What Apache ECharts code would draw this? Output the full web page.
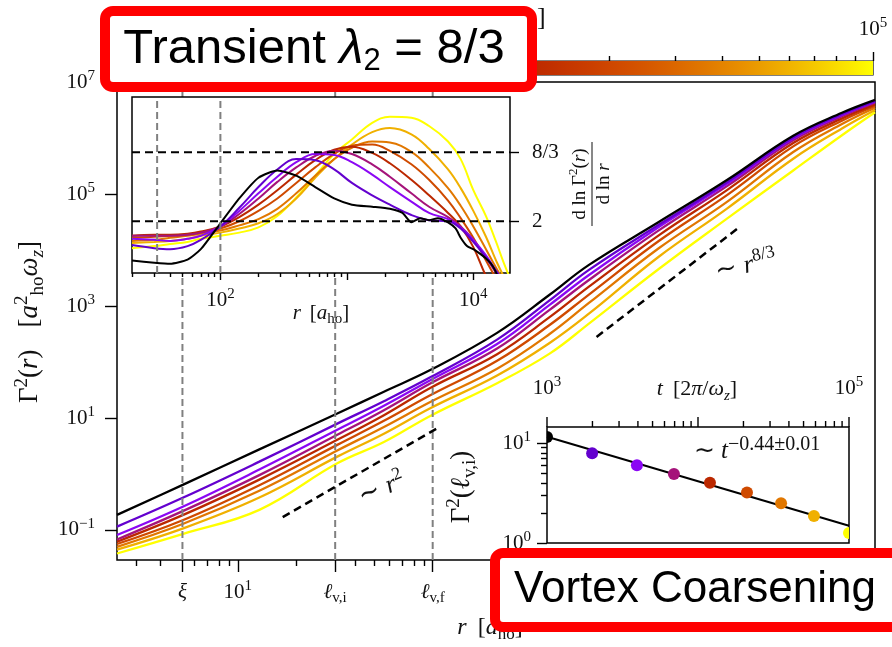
<!DOCTYPE html>
<html>
<head>
<meta charset="utf-8">
<title>Vortex coarsening – Γ²(r)</title>
<script src="https://cdn.jsdelivr.net/npm/echarts@6.0.0/dist/echarts.min.js"></script>
<style>
  html, body { margin: 0; padding: 0; background: #fff; }
  #chart { width: 892px; height: 647px; }
</style>
</head>
<body>
<div id="chart"></div>
<script>
// ---------------------------------------------------------------------------
// Data
// ---------------------------------------------------------------------------

// Snapshot times t [2π/ω_z] of the nine curves (black = earliest, yellow = latest)
const snapTimes = [1000, 1990, 3940, 6930, 12000, 21100, 35500, 58600, 100000];

// Γ²(r) [a_ho² ω_z] at the radii r [a_ho] below, one array per snapshot
const rMain = [2.4, 5.25, 12.9, 32.4, 56.2, 97.7, 214, 398, 631, 1445, 3236, 7079, 12590, 18620];
const gammaT1000   = [0.186, 0.646, 2.75, 12.0, 29.5, 72.4, 331, 1585, 5370, 31620, 177800, 1096000, 2820000, 4790000];
const gammaT1990   = [0.115, 0.380, 1.66, 7.94, 19.95, 53.7, 251, 1259, 4365, 28180, 162200, 1023000, 2690000, 4570000];
const gammaT3940   = [0.0813, 0.263, 1.20, 6.17, 16.6, 47.9, 209, 1047, 3548, 25700, 151400, 977000, 2570000, 4470000];
const gammaT6930   = [0.0676, 0.219, 0.955, 5.01, 13.8, 41.7, 174, 851, 2884, 22390, 138000, 912000, 2450000, 4270000];
const gammaT12000  = [0.0617, 0.186, 0.794, 4.07, 11.2, 34.7, 138, 631, 2188, 18200, 117500, 813000, 2240000, 3980000];
const gammaT21100  = [0.0562, 0.151, 0.631, 3.31, 8.91, 25.7, 105, 457, 1585, 14450, 95500, 708000, 2040000, 3720000];
const gammaT35500  = [0.0501, 0.129, 0.501, 2.63, 6.92, 19.5, 75.9, 316, 1122, 10720, 72400, 562000, 1780000, 3470000];
const gammaT58600  = [0.0447, 0.107, 0.380, 2.04, 5.25, 15.1, 57.5, 219, 724, 7586, 54950, 426600, 1480000, 3160000];
const gammaT100000 = [0.0380, 0.0851, 0.229, 1.55, 3.72, 11.0, 41.7, 141, 479, 4571, 36300, 263000, 1120000, 2880000];

// Local slope d ln Γ²/d ln r
const rSlopeT1000 = [20, 30, 40, 55, 70, 100, 141, 200, 282, 398, 562, 794, 1096, 1585, 2188, 2754, 3236, 3802, 4467, 5248, 6310, 7244, 7943, 8913, 10000, 11480, 12590, 13800, 14790, 15850];
const slopeT1000  = [1.62, 1.60, 1.59, 1.63, 1.73, 1.98, 2.22, 2.42, 2.49, 2.44, 2.33, 2.22, 2.16, 2.14, 2.12, 2.08, 1.99, 2.03, 2.01, 2.03, 1.99, 1.93, 1.84, 1.76, 1.73, 1.68, 1.64, 1.59, 1.53, 1.45];
const rSlope = [20, 30, 40, 55, 70, 100, 141, 200, 282, 398, 562, 794, 1096, 1585, 2188, 3236, 4467, 6310, 7943, 10000, 12590, 15140, 17380, 19500];
const slopeT1990   = [1.77, 1.74, 1.73, 1.76, 1.82, 1.95, 2.13, 2.33, 2.50, 2.60, 2.59, 2.50, 2.37, 2.25, 2.16, 2.06, 2.01, 2.00, 1.93, 1.80, 1.65, 1.52, 1.42, 1.35];
const slopeT3940   = [1.83, 1.82, 1.81, 1.83, 1.86, 1.95, 2.10, 2.27, 2.43, 2.57, 2.65, 2.64, 2.57, 2.45, 2.33, 2.19, 2.08, 2.02, 1.94, 1.82, 1.67, 1.52, 1.42, 1.35];
const slopeT6930   = [1.86, 1.86, 1.86, 1.87, 1.89, 1.95, 2.07, 2.22, 2.38, 2.52, 2.63, 2.68, 2.65, 2.55, 2.43, 2.27, 2.14, 2.04, 1.95, 1.82, 1.65, 1.50, 1.40, 1.33];
const slopeT12000  = [1.86, 1.87, 1.87, 1.88, 1.90, 1.95, 2.04, 2.16, 2.30, 2.45, 2.59, 2.69, 2.72, 2.66, 2.56, 2.40, 2.25, 2.08, 1.95, 1.75, 1.47, 1.30, 1.20, 1.10];
const slopeT21100  = [1.84, 1.85, 1.86, 1.87, 1.89, 1.93, 2.00, 2.10, 2.22, 2.37, 2.52, 2.65, 2.73, 2.74, 2.68, 2.55, 2.40, 2.20, 2.03, 1.84, 1.62, 1.45, 1.35, 1.25];
const slopeT35500  = [1.81, 1.82, 1.84, 1.86, 1.88, 1.91, 1.96, 2.02, 2.12, 2.27, 2.44, 2.60, 2.71, 2.77, 2.76, 2.67, 2.52, 2.32, 2.15, 1.95, 1.73, 1.55, 1.43, 1.35];
const slopeT58600  = [1.79, 1.80, 1.81, 1.83, 1.86, 1.89, 1.93, 1.98, 2.07, 2.22, 2.42, 2.60, 2.74, 2.86, 2.90, 2.84, 2.70, 2.50, 2.32, 2.10, 1.85, 1.62, 1.47, 1.38];
const slopeT100000 = [1.74, 1.76, 1.78, 1.80, 1.83, 1.86, 1.89, 1.94, 2.05, 2.23, 2.44, 2.65, 2.79, 2.95, 3.01, 3.00, 2.92, 2.77, 2.60, 2.30, 2.05, 1.80, 1.60, 1.45];

// Γ²(ℓ_v,i) versus time and its power-law fit ~ t^(-0.44)
const gammaAtLvi = [11.5, 7.9, 6.0, 4.9, 4.0, 3.2, 2.5, 1.86, 1.26];
const fitT = [1000, 100000];
const fitGamma = [11.6, 1.49];

// Power-law guides
const guideR2 = [17, 105];
const guideG2 = [0.17, 6.49];
const guideR83 = [693, 3750];
const guideG83 = [280, 25600];

// Characteristic lengths: ξ, ℓ_v,i, ℓ_v,f
const lengthMarks = [5.2, 31.6, 100];
const insetLengthMarks = [31.6, 100];
const slopeRefs = [2, 8 / 3];

// Axis ranges
const mainR = [2.4, 18600];
const mainGamma = [0.0291, 1e7];
const insetR = [20, 19500];
const insetSlope = [1.5, 3.2];
const coarsenT = [1000, 100000];
const coarsenGamma = [1, 14.5];

// Tick values
const mainXMajor = [5.2, 10, 31.6, 100, 1000, 10000];
const mainXLabelled = [5.2, 10, 31.6, 100];
const mainYLabelled = [0.1, 10, 1000, 1e5, 1e7];
const insetXMajor = [100, 1000, 10000];
const insetXLabelled = [100, 10000];
const coarsenXMajor = [1000, 10000, 100000];
const coarsenXLabelled = [1000, 100000];
const coarsenYLabelled = [1, 10];
const cbarMajor = [1000, 10000, 100000];

// ---------------------------------------------------------------------------
// Helpers
// ---------------------------------------------------------------------------
const lg = Math.log10;
const SERIF = 'Liberation Serif';
const SANS = 'Liberation Sans';
const INK = '#111';

// matplotlib "gnuplot" colour map
function gnuplot(x) {
  const r = Math.sqrt(x), g = x * x * x, b = Math.max(0, Math.sin(2 * Math.PI * x));
  const h = v => Math.round(Math.min(1, Math.max(0, v)) * 255).toString(16).padStart(2, '0');
  return '#' + h(r) + h(g) + h(b);
}
const tNorm = t => (lg(t) - lg(coarsenT[0])) / (lg(coarsenT[1]) - lg(coarsenT[0]));
const curveColors = snapTimes.map(t => gnuplot(tNorm(t)));

// rich-text styles for math labels of base size s
function mathRich(s, supScale, quad) {
  const H = Math.round(s * 1.3), ss = Math.round(s * (supScale || 0.7));
  const base = { fontFamily: SERIF, fontSize: s, lineHeight: H, color: INK, fill: INK };
  const sup = { fontFamily: SERIF, fontSize: ss, lineHeight: H - Math.round(0.7 * s), verticalAlign: 'top', color: INK, fill: INK };
  const sub = { fontFamily: SERIF, fontSize: Math.round(s * 0.7), lineHeight: H - Math.round(0.5 * s), verticalAlign: 'bottom', color: INK, fill: INK };
  return {
    n: base,
    i: Object.assign({}, base, { fontStyle: 'italic' }),
    sup: sup,
    sub: sub,
    subi: Object.assign({}, sub, { fontStyle: 'italic' }),
    q: { fontFamily: SERIF, fontSize: s, lineHeight: H, width: Math.round(s * (quad || 0.45)) }
  };
}
const pow10 = k => '{n|10}{sup|' + (k < 0 ? '\u2212' + (-k) : k) + '}';

function pickLabel(pairs) {
  return v => {
    for (const [val, txt] of pairs) if (Math.abs(lg(val) - v) < 1e-6) return txt;
    return '';
  };
}

// minor log ticks (2..9 × 10^k) inside [lo, hi], returned in log units
function minorTicks(lo, hi, skip) {
  const out = [];
  for (let e = Math.floor(lg(lo)); e <= Math.ceil(lg(hi)); e++) {
    for (let m = 2; m <= 9; m++) {
      const v = m * Math.pow(10, e);
      if (v >= lo * 0.9999 && v < hi * 0.9999 && !(skip || []).includes(v)) out.push(lg(v));
    }
  }
  return out;
}

const tickStyle = { color: '#000', width: 1.4 };

function majorAxis(o) {
  return Object.assign({
    type: 'value',
    splitLine: { show: false },
    axisLine: { show: false, onZero: false },
    axisTick: o.ticks ? { show: true, inside: false, customValues: o.ticks, length: o.len, lineStyle: tickStyle } : { show: false },
    axisLabel: o.labels ? {
      show: true, inside: false, customValues: o.labels, formatter: o.fmt, rich: mathRich(o.fs || 21), margin: o.margin
    } : { show: false }
  }, o.base);
}
function minorAxis(o) {
  return Object.assign({
    type: 'value',
    splitLine: { show: false },
    axisLine: { show: false, onZero: false },
    axisTick: { show: true, inside: false, customValues: o.ticks, length: o.len, lineStyle: tickStyle },
    axisLabel: { show: false }
  }, o.base);
}

// ---------------------------------------------------------------------------
// Axes
// ---------------------------------------------------------------------------
const mainXFmt = pickLabel([
  [5.2, '{i|ξ}'], [10, pow10(1)], [31.6, '{i|ℓ}{sub|v,i}'], [100, '{i|ℓ}{sub|v,f}']
]);
const mainYFmt = pickLabel(mainYLabelled.map(v => [v, pow10(Math.round(lg(v)))]));
const insetXFmt = pickLabel(insetXLabelled.map(v => [v, pow10(Math.round(lg(v)))]));
const coarsenXFmt = pickLabel(coarsenXLabelled.map(v => [v, pow10(Math.round(lg(v)))]));
const coarsenYFmt = pickLabel(coarsenYLabelled.map(v => [v, pow10(Math.round(lg(v)))]));
const cbarFmt = pickLabel(cbarMajor.map(v => [v, pow10(Math.round(lg(v)))]));
const slopeFmt = v => Math.abs(v - 2) < 1e-6 ? '{n|2}' : '{n|8/3}';

const xAxes = [
  // 0,1: main r axis
  majorAxis({ ticks: mainXMajor.map(lg), len: 12, labels: mainXLabelled.map(lg), fmt: mainXFmt, margin: 19,
    base: { gridIndex: 0, position: 'bottom', min: lg(mainR[0]), max: lg(mainR[1]), z: 1 } }),
  minorAxis({ ticks: minorTicks(mainR[0], mainR[1], [5, 30]), len: 6,
    base: { gridIndex: 0, position: 'bottom', min: lg(mainR[0]), max: lg(mainR[1]), z: 1 } }),
  // 2,3: slope inset r axis
  majorAxis({ ticks: insetXMajor.map(lg), len: 7, labels: insetXLabelled.map(lg), fmt: insetXFmt, margin: 14,
    base: { gridIndex: 1, position: 'bottom', min: lg(insetR[0]), max: lg(insetR[1]), z: 6 } }),
  minorAxis({ ticks: minorTicks(insetR[0], insetR[1]), len: 4,
    base: { gridIndex: 1, position: 'bottom', min: lg(insetR[0]), max: lg(insetR[1]), z: 6 } }),
  // 4: coarsening inset t axis, labels only (its ticks are drawn by a custom series)
  majorAxis({ labels: coarsenXLabelled.map(lg), fmt: coarsenXFmt, margin: 25,
    base: { gridIndex: 2, position: 'top', min: lg(coarsenT[0]), max: lg(coarsenT[1]), z: 6 } }),
  // 5,6: colour bar t axis (top)
  majorAxis({ ticks: cbarMajor.map(lg), len: 9, labels: cbarMajor.map(lg), fmt: cbarFmt, margin: 18,
    base: { gridIndex: 3, position: 'top', min: lg(coarsenT[0]), max: lg(coarsenT[1]), z: 6 } }),
  minorAxis({ ticks: minorTicks(coarsenT[0], coarsenT[1]), len: 5,
    base: { gridIndex: 3, position: 'top', min: lg(coarsenT[0]), max: lg(coarsenT[1]), z: 6 } })
];

const yAxes = [
  // 0: main Γ² axis
  majorAxis({ ticks: mainYLabelled.map(lg), len: 12, labels: mainYLabelled.map(lg), fmt: mainYFmt, margin: 22,
    base: { gridIndex: 0, position: 'left', min: lg(mainGamma[0]), max: lg(mainGamma[1]), z: 1 } }),
  // 1: slope axis (right side)
  majorAxis({ ticks: slopeRefs, len: 9, labels: slopeRefs, fmt: slopeFmt, margin: 22,
    base: { gridIndex: 1, position: 'right', min: insetSlope[0], max: insetSlope[1], z: 6 } }),
  // 2,3: Γ²(ℓ_v,i) axis
  majorAxis({ ticks: coarsenYLabelled.map(lg), len: 10, labels: coarsenYLabelled.map(lg), fmt: coarsenYFmt, margin: 16,
    base: { gridIndex: 2, position: 'left', min: lg(coarsenGamma[0]), max: lg(coarsenGamma[1]), z: 6 } }),
  minorAxis({ ticks: minorTicks(coarsenGamma[0], coarsenGamma[1]).filter(v => v > 1e-9), len: 6,
    base: { gridIndex: 2, position: 'left', min: lg(coarsenGamma[0]), max: lg(coarsenGamma[1]), z: 6 } }),
  // 4: colour bar (hidden)
  { type: 'value', gridIndex: 3, min: 0, max: 1, show: false, axisLine: { onZero: false } }
];

// ---------------------------------------------------------------------------
// Series
// ---------------------------------------------------------------------------
const series = [];
const mainCurves = [gammaT1000, gammaT1990, gammaT3940, gammaT6930, gammaT12000, gammaT21100, gammaT35500, gammaT58600, gammaT100000];
const slopeCurves = [slopeT1000, slopeT1990, slopeT3940, slopeT6930, slopeT12000, slopeT21100, slopeT35500, slopeT58600, slopeT100000];

// main: Γ²(r) curves, latest first so the earliest sits on top
for (let k = mainCurves.length - 1; k >= 0; k--) {
  series.push({
    type: 'line', xAxisIndex: 0, yAxisIndex: 0, z: 2, showSymbol: false, smooth: 0.4,
    data: rMain.map((r, i) => [lg(r), lg(mainCurves[k][i])]),
    lineStyle: { color: curveColors[k], width: 2.3 }
  });
}

// main: characteristic lengths (drawn over the curves)
lengthMarks.forEach(r => series.push({
  type: 'line', xAxisIndex: 0, yAxisIndex: 0, z: 3, silent: true, showSymbol: false,
  data: [[lg(r), lg(mainGamma[0])], [lg(r), lg(mainGamma[1])]],
  lineStyle: { color: '#808080', width: 2, type: [7, 4] }
}));

// main: power-law guides
[[guideR2, guideG2], [guideR83, guideG83]].forEach(([rs, gs]) => series.push({
  type: 'line', xAxisIndex: 0, yAxisIndex: 0, z: 3, showSymbol: false, silent: true,
  data: rs.map((r, i) => [lg(r), lg(gs[i])]),
  lineStyle: { color: '#000', width: 2.5, type: [8, 5] }
}));

// slope inset: curves
for (let k = slopeCurves.length - 1; k >= 0; k--) {
  const rs = k === 0 ? rSlopeT1000 : rSlope;
  series.push({
    type: 'line', xAxisIndex: 2, yAxisIndex: 1, z: 7, showSymbol: false,
    smooth: k === 0 ? 0.2 : 0.4,
    data: rs.map((r, i) => [lg(r), slopeCurves[k][i]]),
    lineStyle: { color: curveColors[k], width: 2 }
  });
}

// slope inset: reference lines
insetLengthMarks.forEach(r => series.push({
  type: 'line', xAxisIndex: 2, yAxisIndex: 1, z: 8, showSymbol: false, silent: true,
  data: [[lg(r), insetSlope[0]], [lg(r), insetSlope[1]]],
  lineStyle: { color: '#808080', width: 2, type: [7, 4] }
}));
slopeRefs.forEach(s => series.push({
  type: 'line', xAxisIndex: 2, yAxisIndex: 1, z: 8, showSymbol: false, silent: true,
  data: [[lg(insetR[0]), s], [lg(insetR[1]), s]],
  lineStyle: { color: '#000', width: 2, type: [8, 5] }
}));

// coarsening inset: fit and measured points
series.push({
  type: 'line', xAxisIndex: 4, yAxisIndex: 2, z: 7, showSymbol: false, silent: true,
  data: fitT.map((t, i) => [lg(t), lg(fitGamma[i])]),
  lineStyle: { color: '#000', width: 2 }
});
series.push({
  type: 'custom', xAxisIndex: 4, yAxisIndex: 2, z: 8, clip: true,
  data: snapTimes.map((t, i) => [lg(t), lg(gammaAtLvi[i]), i]),
  renderItem: (params, api) => {
    const p = api.coord([api.value(0), api.value(1)]);
    return { type: 'circle', shape: { cx: p[0], cy: p[1], r: 6 }, style: { fill: curveColors[api.value(2)] } };
  }
});
// coarsening inset: outward ticks on the top t axis (value, length in px)
const coarsenTopTicks = coarsenXMajor.map(t => [lg(t), 10]).concat(minorTicks(coarsenT[0], coarsenT[1]).map(v => [v, 6]));
series.push({
  type: 'custom', xAxisIndex: 4, yAxisIndex: 2, z: 8, clip: false, silent: true,
  data: coarsenTopTicks,
  renderItem: (params, api) => {
    const p = api.coord([api.value(0), lg(coarsenGamma[1])]);
    return { type: 'line', shape: { x1: p[0], y1: p[1], x2: p[0], y2: p[1] - api.value(1) }, style: { stroke: '#000', lineWidth: 1.4 } };
  }
});

// colour bar
const cbarStops = [];
for (let k = 0; k <= 40; k++) cbarStops.push({ offset: k / 40, color: gnuplot(k / 40) });
series.push({
  type: 'custom', xAxisIndex: 5, yAxisIndex: 4, z: 6, silent: true,
  data: [[lg(coarsenT[0]), lg(coarsenT[1])]],
  renderItem: (params, api) => {
    const p0 = api.coord([api.value(0), 1]);
    const p1 = api.coord([api.value(1), 0]);
    return {
      type: 'rect',
      shape: { x: p0[0], y: p0[1], width: p1[0] - p0[0], height: p1[1] - p0[1] },
      style: { fill: new echarts.graphic.LinearGradient(0, 0, 1, 0, cbarStops) }
    };
  }
});

// ---------------------------------------------------------------------------
// Text annotations and title boxes
// ---------------------------------------------------------------------------
function mathText(x, y, text, size, rotDeg, supScale, quad) {
  return {
    type: 'text', x: x, y: y, rotation: (rotDeg || 0) * Math.PI / 180, z: 50, silent: true,
    style: { text: text, rich: mathRich(size, supScale, quad), align: 'center', verticalAlign: 'middle', fill: INK }
  };
}

const graphics = [
  mathText(30, 322, '{n|Γ}{sup|2}{n|(}{i|r}{n|)}{q| }{n|[}{i|a}{sup|2}{sub|ho}{i|ω}{subi|z}{n|]}', 27, 90, 0.7, 0.8),
  mathText(490, 628, '{i|r}{q| }{n|[}{i|a}{sub|ho}{n|]}', 24),
  mathText(321, 313, '{i|r}{q| }{n|[}{i|a}{sub|ho}{n|]}', 21),
  mathText(462, 487, '{n|Γ}{sup|2}{n|(}{i|ℓ}{sub|v,i}{n|)}', 27, 90),
  mathText(697, 389, '{i|t}{q| }{n|[2}{i|π}{n|/}{i|ω}{subi|z}{n|]}', 22),
  mathText(498, 18, '{i|t}{q| }{n|[2}{i|π}{n|/}{i|ω}{subi|z}{n|]}', 26),
  mathText(757, 451, '{n|∼ }{i|t}{sup|\u22120.44±0.01}', 25, 0, 0.8),
  mathText(382, 489, '{n|∼ }{i|r}{sup|2}', 26, 22),
  mathText(746, 266, '{n|∼ }{i|r}{sup|8/3}', 26, 12),
  {
    type: 'group', x: 592, y: 184, rotation: Math.PI / 2, z: 50, silent: true,
    children: [
      { type: 'text', x: 0, y: -12, style: { text: '{n|d ln Γ}{sup|2}{n|(}{i|r}{n|)}', rich: mathRich(19), align: 'center', verticalAlign: 'middle' } },
      { type: 'line', shape: { x1: -42, y1: 0, x2: 42, y2: 0 }, style: { stroke: INK, lineWidth: 1 } },
      { type: 'text', x: 0, y: 12, style: { text: '{n|d ln }{i|r}', rich: mathRich(19), align: 'center', verticalAlign: 'middle' } }
    ]
  },
  // title boxes
  {
    type: 'rect', z: 100, silent: true,
    shape: { x: 105, y: 11, width: 427, height: 76, r: 8 },
    style: { fill: '#fff', stroke: '#ff0000', lineWidth: 10 }
  },
  {
    type: 'text', x: 314, y: 49, z: 101, silent: true,
    style: {
      text: '{s|Transient }{l|λ}{b|2}{s| = 8/3}',
      align: 'center', verticalAlign: 'middle',
      rich: {
        s: { fontFamily: SANS, fontSize: 49, lineHeight: 56, fill: '#000' },
        l: { fontFamily: SANS, fontSize: 49, lineHeight: 56, fontStyle: 'italic', fill: '#000' },
        b: { fontFamily: SANS, fontSize: 31, lineHeight: 22, verticalAlign: 'bottom', fill: '#000' }
      }
    }
  },
  {
    type: 'rect', z: 100, silent: true,
    shape: { x: 495, y: 553, width: 420, height: 74, r: 8 },
    style: { fill: '#fff', stroke: '#ff0000', lineWidth: 10 }
  },
  {
    type: 'text', x: 514, y: 590, z: 101, silent: true,
    style: { text: 'Vortex Coarsening', font: '44px "Liberation Sans"', fill: '#000', align: 'left', verticalAlign: 'middle' }
  }
];

// ---------------------------------------------------------------------------
// Chart
// ---------------------------------------------------------------------------
const chart = echarts.init(document.getElementById('chart'), null, { renderer: 'canvas' });
chart.setOption({
  animation: false,
  backgroundColor: '#fff',
  grid: [
    { left: 117, top: 82, width: 758, height: 478, show: true, borderColor: '#000', borderWidth: 1.5, backgroundColor: 'transparent', z: 0, outerBoundsMode: 'none', containLabel: false },
    { left: 132, top: 97, width: 378, height: 176, show: true, borderColor: '#000', borderWidth: 1.5, backgroundColor: '#fff', z: 5, outerBoundsMode: 'none', containLabel: false },
    { left: 547, top: 427, width: 302, height: 116, show: true, borderColor: '#000', borderWidth: 1.5, backgroundColor: '#fff', z: 5, outerBoundsMode: 'none', containLabel: false },
    { left: 117, top: 61, width: 756, height: 14, show: true, borderColor: '#000', borderWidth: 1.2, backgroundColor: 'transparent', z: 5, outerBoundsMode: 'none', containLabel: false }
  ],
  xAxis: xAxes,
  yAxis: yAxes,
  series: series,
  graphic: { elements: graphics }
});
</script>
</body>
</html>
